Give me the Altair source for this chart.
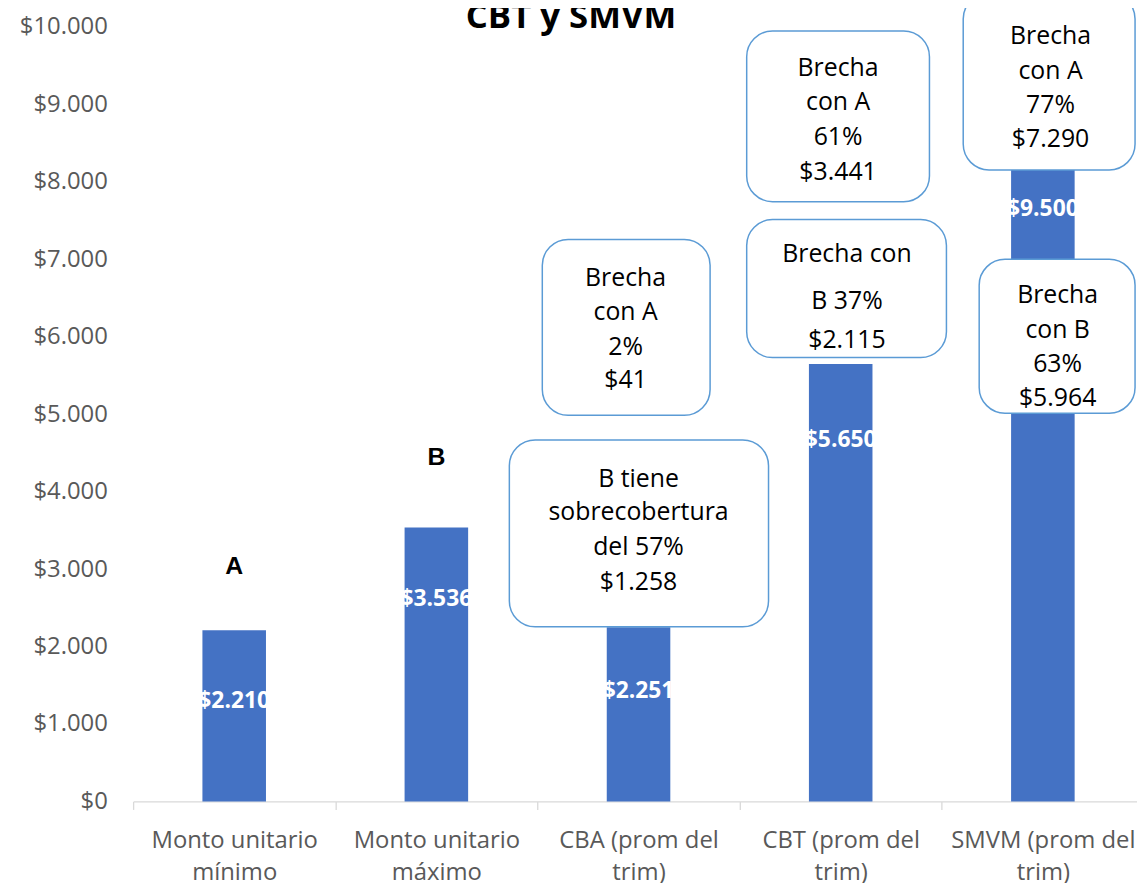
import altair as alt
import pandas as pd

# ---- data ----
categories = ["Monto unitario|mínimo", "Monto unitario|máximo", "CBA (prom del|trim)",
              "CBT (prom del|trim)", "SMVM (prom del|trim)"]
values = [2210, 3536, 2251, 5650, 9500]
bar_label_at = [1295, 2615, 1423, 4667, 7654]          # label anchor, in $ units

letters = ["A", "B"]
letter_cat = [categories[0], categories[1]]
letter_at = [3038, 4449]

title_text = "CBT y SMVM"
title_at = (2.166, 9987)                                 # (category units, $ units)

# callout boxes (x in category units 0..5, y in $ units)
box_x1 = [2.024, 1.861, 3.035, 3.035, 4.106, 4.185]
box_x2 = [2.854, 3.143, 3.939, 4.023, 4.956, 4.956]
box_y1 = [7256, 4667, 9949, 7513, 10436, 7000]
box_y2 = [4987, 2256, 7744, 5731, 8154, 5013]

# callout text lines
txt_x = [2.436] * 4 + [2.500] * 4 + [3.487] * 4 + [3.531] * 3 + [4.538] * 4 + [4.573] * 4
txt_y = [6756, 6321, 5872, 5436,
         4167, 3731, 3282, 2833,
         9474, 9026, 8577, 8128,
         7064, 6462, 5962,
         9885, 9436, 8987, 8551,
         6538, 6090, 5654, 5205]
txt = ["Brecha", "con A", "2%", "$41",
       "B tiene", "sobrecobertura", "del 57%", "$1.258",
       "Brecha", "con A", "61%", "$3.441",
       "Brecha con", "B  37%", "$2.115",
       "Brecha", "con A", "77%", "$7.290",
       "Brecha", "con B", "63%", "$5.964"]

y_ticks = list(range(0, 10001, 1000))

# ---- tables ----
bars_df = pd.DataFrame({
    "cat": categories,
    "value": values,
    "label": ["$" + f"{v:,}".replace(",", ".") for v in values],
    "label_at": bar_label_at,
})
letters_df = pd.DataFrame({"cat": letter_cat, "txt": letters, "at": letter_at})
boxes_df = pd.DataFrame({"x1": box_x1, "x2": box_x2, "y1": box_y1, "y2": box_y2})
text_df = pd.DataFrame({"x": txt_x, "y": txt_y, "t": txt})
title_df = pd.DataFrame({"x": [title_at[0]], "y": [title_at[1]], "t": [title_text]})

FONT = "Open Sans"
GRAY = "#595959"
BLUE = "#4472c4"

xband = alt.Scale(domain=categories, range=[0, 1018], paddingInner=0, paddingOuter=0)
yscale = alt.Scale(domain=[0, 10000], nice=False, zero=True)

x_axis = alt.Axis(labelExpr="split(datum.label, '|')", labelAngle=0,
                  labelFont=FONT, labelFontSize=24, labelColor=GRAY,
                  labelLineHeight=33, labelPadding=19, labelLimit=0,
                  tickBand="extent", tickSize=8, tickColor="#d9d9d9",
                  domainColor="#d9d9d9", domainWidth=1.3, tickWidth=1.3,
                  grid=False, title=None)
y_axis = alt.Axis(values=y_ticks,
                  labelExpr="'$' + replace(format(datum.value, ',.0f'), ',', '.')",
                  labelFont=FONT, labelFontSize=24, labelColor=GRAY,
                  labelPadding=26, ticks=False, tickSize=0, domain=False,
                  grid=False, title=None)


def xb(field):
    return alt.X(field, sort=categories, scale=xband, axis=x_axis, title=None)


def yv(field):
    return alt.Y(field, scale=yscale, axis=y_axis, title=None)


bars = alt.Chart(bars_df).mark_bar(color=BLUE, size=64).encode(
    x=xb("cat:N"),
    y=yv("value:Q"),
)

bar_labels = alt.Chart(bars_df).mark_text(
    color="white", font=FONT, fontWeight="bold", fontSize=23, baseline="middle"
).encode(
    x=xb("cat:N"),
    y=yv("label_at:Q"),
    text="label:N",
)

letter_marks = alt.Chart(letters_df).mark_text(
    color="black", font="Liberation Sans", fontWeight="bold", fontSize=25, baseline="middle"
).encode(
    x=xb("cat:N"),
    y=yv("at:Q"),
    text="txt:N",
)

xq = alt.Scale(domain=[0, 5], range=[0, 1018], nice=False, zero=False)

boxes = alt.Chart(boxes_df).mark_rect(
    fill="white", stroke="#5b9bd5", strokeWidth=1.5, cornerRadius=26
).encode(
    x=alt.X("x1:Q", scale=xq, axis=None),
    x2="x2:Q",
    y=yv("y1:Q"),
    y2="y2:Q",
)

box_text = alt.Chart(text_df).mark_text(
    color="black", font=FONT, fontSize=25, baseline="middle"
).encode(
    x=alt.X("x:Q", scale=xq, axis=None),
    y=yv("y:Q"),
    text="t:N",
)

title_mark = alt.Chart(title_df).mark_text(
    color="black", font=FONT, fontSize=35, fontWeight="bold", baseline="alphabetic"
).encode(
    x=alt.X("x:Q", scale=xq, axis=None),
    y=yv("y:Q"),
    text="t:N",
)

chart = alt.layer(
    alt.layer(bars, bar_labels, letter_marks),
    alt.layer(boxes, box_text, title_mark),
).resolve_scale(x="independent").properties(
    width=1011,
    height=780,
    autosize=alt.AutoSizeParams(type="none"),
    padding={"left": 126, "top": 16, "right": 0, "bottom": 79},
).configure_view(stroke=None)

chart.save("out.html", embed_options={"renderer": "svg", "actions": False})
